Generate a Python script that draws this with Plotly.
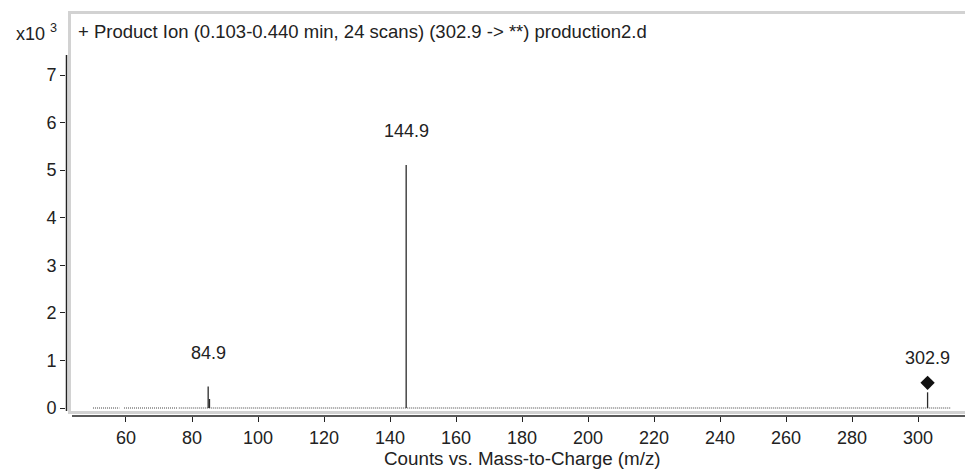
import plotly.graph_objects as go

# ---- data ----
peak_mz = [84.9, 85.3, 144.9, 302.9]
peak_counts = [450, 190, 5110, 330]
labeled_mz = [84.9, 144.9, 302.9]
labeled_counts = [450, 5110, 330]
labeled_text = ["84.9", "144.9", "302.9"]
precursor_mz = [302.9]
precursor_marker_counts = [530]
baseline_segments = [(50.0, 58.0), (59.4, 75.5), (76.0, 310.0)]
x_tick_vals = [60, 80, 100, 120, 140, 160, 180, 200, 220, 240, 260, 280, 300]
x_tick_text = [str(v) for v in x_tick_vals]
y_tick_vals = [0, 1000, 2000, 3000, 4000, 5000, 6000, 7000]
y_tick_text = ["0", "1", "2", "3", "4", "5", "6", "7"]
title_text = "+ Product Ion (0.103-0.440 min, 24 scans) (302.9 -> **) production2.d"
x_title = "Counts vs. Mass-to-Charge (m/z)"

W, H = 965, 471
L, R, T, B = 66, 0, 12, 55
pw, ph = W - L - R, H - T - B

def px_x(p):
    return (p - L) / pw

def px_y(p):
    return (H - B - p) / ph

FONT = "Liberation Sans, Arial, sans-serif"
TXT = "#222222"
FS = 18

fig = go.Figure()

# baseline (noise floor)
bx, by = [], []
for a, b in baseline_segments:
    bx += [a, b, None]
    by += [0, 0, None]
fig.add_trace(go.Scatter(x=bx, y=by, mode="lines",
                         line=dict(color="#444444", width=1, dash="1px,1px"),
                         hoverinfo="skip", showlegend=False))

# sticks
sx, sy = [], []
for m, c in zip(peak_mz, peak_counts):
    sx += [m, m, None]
    sy += [0, c, None]
fig.add_trace(go.Scatter(x=sx, y=sy, mode="lines",
                         line=dict(color="#2a2a2a", width=1.3),
                         showlegend=False))

# precursor diamond
fig.add_trace(go.Scatter(x=precursor_mz, y=precursor_marker_counts, mode="markers",
                         marker=dict(symbol="diamond", size=11, color="#111111"),
                         showlegend=False))

# peak labels
for m, c, t in zip(labeled_mz, labeled_counts, labeled_text):
    fig.add_annotation(x=m, y=c, text=t, showarrow=False, yshift=34,
                       font=dict(family=FONT, size=FS, color=TXT),
                       xanchor="center", yanchor="middle")

# title inside frame
fig.add_annotation(xref="paper", yref="paper", x=px_x(76), y=px_y(31.5),
                   text=title_text, showarrow=False, xanchor="left", yanchor="middle",
                   font=dict(family=FONT, size=FS + 0.5, color=TXT))
# multiplier
fig.add_annotation(xref="paper", yref="paper", x=px_x(59), y=px_y(32),
                   text="x10 <sup>3</sup>", showarrow=False, xanchor="right", yanchor="middle",
                   font=dict(family=FONT, size=18, color=TXT))
# x-axis title
fig.add_annotation(xref="paper", yref="paper", x=px_x(522), y=px_y(458),
                   text=x_title, showarrow=False, xanchor="center", yanchor="middle",
                   font=dict(family=FONT, size=18.8, color=TXT))

shapes = [
    # gray frame (left, top, bottom)
    dict(type="line", xref="paper", yref="paper", x0=px_x(69.5), x1=px_x(69.5),
         y0=px_y(12), y1=px_y(412.5), line=dict(color="#d2d2d2", width=3)),
    dict(type="line", xref="paper", yref="paper", x0=px_x(68), x1=1,
         y0=px_y(12.5), y1=px_y(12.5), line=dict(color="#d2d2d2", width=3)),
    dict(type="line", xref="paper", yref="paper", x0=px_x(68), x1=1,
         y0=px_y(412.5), y1=px_y(412.5), line=dict(color="#d2d2d2", width=3)),
    # y axis line
    dict(type="line", xref="paper", yref="paper", x0=px_x(66.5), x1=px_x(66.5),
         y0=px_y(55), y1=px_y(411), line=dict(color="#222222", width=1.5)),
    # x axis line
    dict(type="line", xref="paper", yref="paper", x0=px_x(72), x1=1,
         y0=px_y(416), y1=px_y(416), line=dict(color="#222222", width=1.5)),
]

fig.update_layout(
    width=W, height=H,
    margin=dict(l=L, r=R, t=T, b=B, pad=0),
    paper_bgcolor="white", plot_bgcolor="white",
    shapes=shapes,
    xaxis=dict(range=[41.82, 314.24], tickvals=x_tick_vals, ticktext=x_tick_text,
               ticks="outside", ticklen=5, tickcolor="#222222", tickwidth=1,
               showgrid=False, zeroline=False, showline=False,
               tickfont=dict(family=FONT, size=FS, color=TXT)),
    yaxis=dict(range=[-168, 8325], tickvals=y_tick_vals, ticktext=y_tick_text,
               ticks="outside", ticklen=5, tickcolor="#222222", tickwidth=1,
               showgrid=False, zeroline=False, showline=False,
               tickfont=dict(family=FONT, size=FS, color=TXT)),
)

fig.write_html("out.html")
